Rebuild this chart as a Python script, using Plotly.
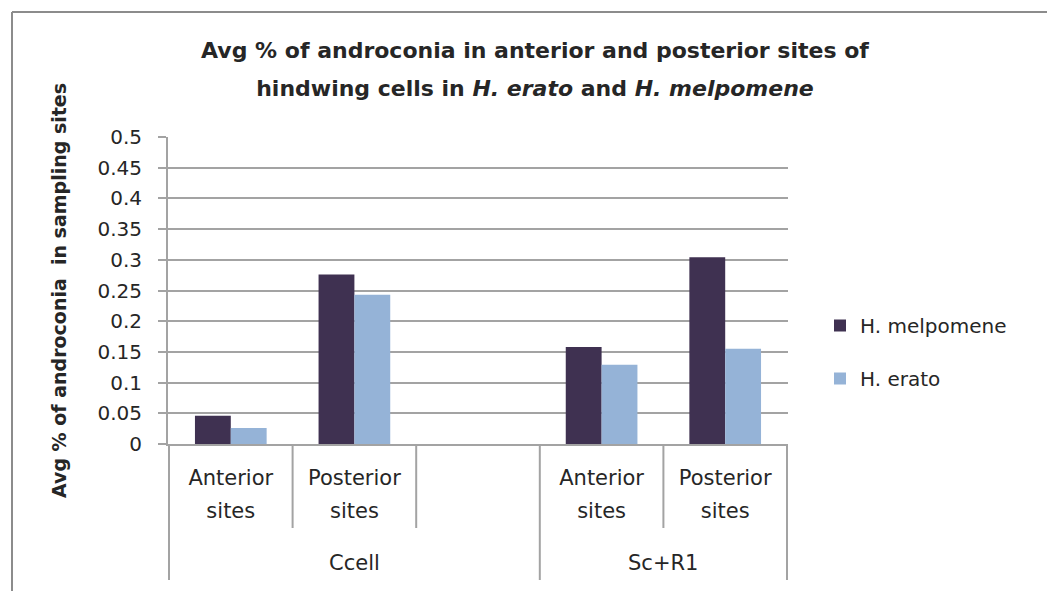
import plotly.graph_objects as go

groups = ["Ccell", "Ccell", "Ccell", "Sc+R1", "Sc+R1"]
sites = ["Anterior sites", "Posterior sites", "", "Anterior sites", "Posterior sites"]
melpomene = [0.046, 0.276, None, 0.158, 0.304]
erato = [0.026, 0.243, None, 0.129, 0.155]
y_ticks = [0, 0.05, 0.1, 0.15, 0.2, 0.25, 0.3, 0.35, 0.4, 0.45, 0.5]

OFF = 8  # body margin of the page
W, H = 1055 - OFF, 591 - OFF
L, R, T, B = 168 - OFF, 788 - OFF, 137 - OFF, 444 - OFF
GRID = "#a3a3a3"
TXT = "#262626"

keys = [f"{g}|{i}" for i, g in enumerate(groups)]


def wrap(label, fs):
    if not label:
        return " "
    return "<br>".join(f"<span style='font-size:{fs}px'>{w}</span>" for w in label.split(" "))


ticktext = [wrap(s, 21) for s in sites]

fig = go.Figure()
fig.add_trace(go.Bar(x=keys, y=melpomene, name="H. melpomene",
                     marker=dict(color="#3F3151", line=dict(width=0)), legendgroup="a"))
fig.add_trace(go.Bar(x=keys, y=erato, name="H. erato",
                     marker=dict(color="#95B3D7", line=dict(width=0)), legendgroup="b"))


def px_x(x):
    return (x - OFF - L) / (R - L)


def px_y(y):
    return (B - (y - OFF)) / (B - T)


shapes = [
    dict(type="line", xref="paper", yref="paper", x0=px_x(12), x1=px_x(1080), y0=px_y(12), y1=px_y(12),
         line=dict(color="#8c8c8c", width=2)),
    dict(type="line", xref="paper", yref="paper", x0=px_x(12), x1=px_x(12), y0=px_y(12), y1=px_y(620),
         line=dict(color="#8c8c8c", width=2)),
]
# category dividers (short) and group dividers (long)
n = len(keys)
group_bounds = [0] + [i for i in range(1, n) if groups[i] != groups[i - 1]] + [n]
for b in range(n + 1):
    long = b in group_bounds
    shapes.append(dict(type="line", xref="x", yref="paper", x0=b - 0.5, x1=b - 0.5,
                       y0=0, y1=px_y(580 if long else 528),
                       line=dict(color=GRID, width=2)))

annotations = []
for a, b in zip(group_bounds[:-1], group_bounds[1:]):
    annotations.append(dict(text=groups[a], xref="x", yref="paper", x=(a + b - 1) / 2, y=px_y(563),
                            xanchor="center", yanchor="middle", showarrow=False,
                            font=dict(family="DejaVu Sans", size=21, color=TXT)))

fig.update_layout(
    width=W, height=H,
    margin=dict(l=L, r=W - R, t=T, b=H - B),
    paper_bgcolor="white", plot_bgcolor="white",
    barmode="group", bargap=0.42, bargroupgap=0,
    title=dict(text="<b><span style='font-size:22px'>Avg % of androconia in anterior and posterior sites of</span><br>"
                    "<span style='font-size:22px'>hindwing cells in <i>H. erato</i> and <i>H. melpomene</i></span></b>",
               x=px_x(535), xref="paper", xanchor="center", y=1 - (58 - OFF) / H, yanchor="middle",
               font=dict(family="DejaVu Sans", size=29, color=TXT)),
    font=dict(family="DejaVu Sans", size=20, color=TXT),
    yaxis=dict(range=[0, 0.5], tickvals=y_ticks, ticktext=[f"{v:g}" for v in y_ticks],
               showgrid=True, gridcolor=GRID, gridwidth=2,
               showline=True, linecolor=GRID, linewidth=2, ticks="outside", ticklen=8,
               tickcolor=GRID, tickwidth=2, zeroline=False, ticklabelstandoff=12,
               title=dict(text="<b>Avg % of androconia  in sampling sites</b>",
                          font=dict(family="DejaVu Sans", size=19, color=TXT), standoff=26),
               tickfont=dict(family="DejaVu Sans", size=20, color=TXT)),
    xaxis=dict(type="category", categoryorder="array", categoryarray=keys,
               tickvals=keys, ticktext=ticktext, tickangle=0,
               showline=True, linecolor=GRID, linewidth=2, ticks="", ticklabelstandoff=9,
               tickfont=dict(family="DejaVu Sans", size=25, color=TXT)),
    legend=dict(x=px_x(820), y=px_y(352), xanchor="left", yanchor="middle",
                font=dict(family="DejaVu Sans", size=20, color=TXT), tracegroupgap=24, itemwidth=30),
    shapes=shapes,
    annotations=annotations,
)

fig.write_html("out.html")
